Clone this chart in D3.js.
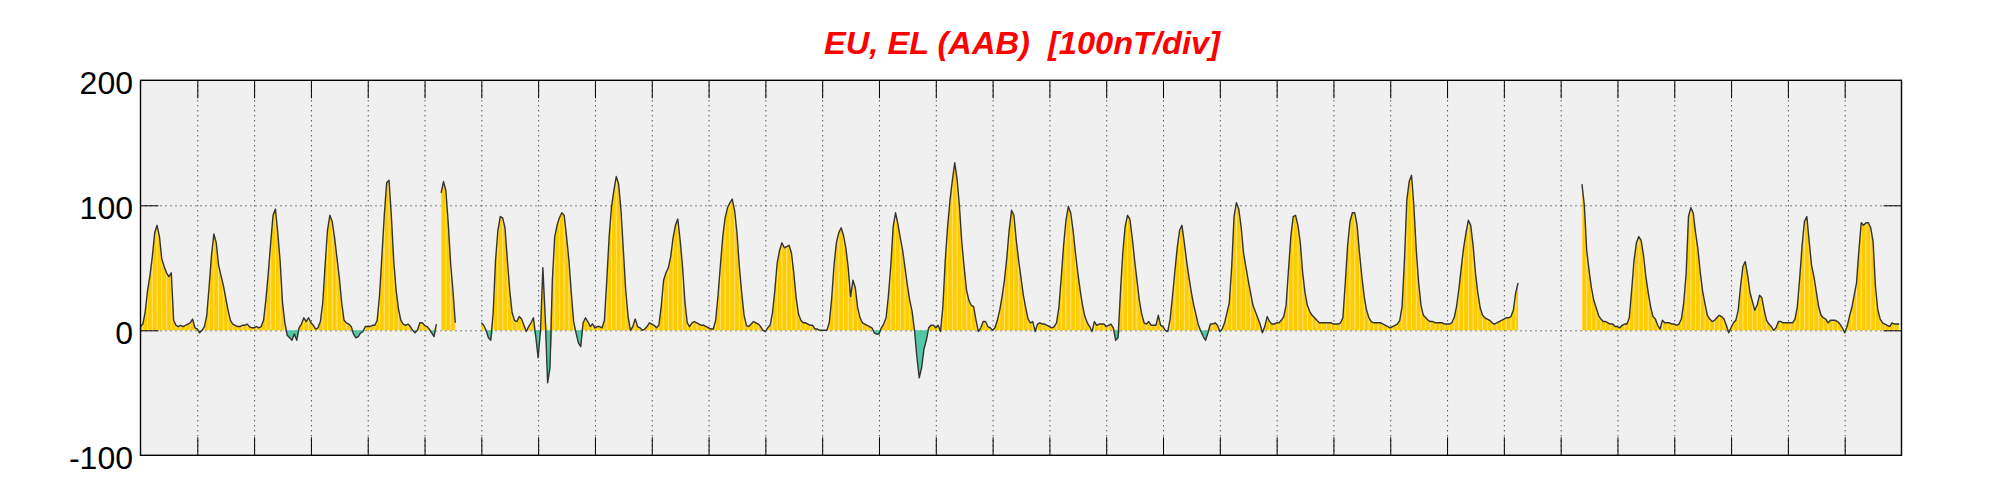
<!DOCTYPE html>
<html><head><meta charset="utf-8">
<script src="https://cdn.jsdelivr.net/npm/d3@7"></script>
<style>html,body{margin:0;padding:0;background:#fff;} svg{display:block;}</style>
</head><body>
<svg id="chart" width="2001" height="500"></svg>
<script>
// ---------- data (hourly EU/EL values in nT; null = no data) ----------
const titleText = "EU, EL (AAB)  [100nT/div]";
const yTicks = [-100, 0, 100, 200];
const yGrid = [0, 100];
const dayCount = 31;
const hoursPerDay = 24;
const _ = null;
const d01 = [3,5,15,32,44,59,78,84,75,57,51,46,43,46,8,4,3,4,3,4,5,6,9,2];
const d02 = [1,-2,0,3,12,35,60,77,70,52,44,36,26,16,8,5,4,3,3,4,4,5,3,2];
const d03 = [2,3,2,3,8,25,46,70,92,97,78,55,22,6,-4,-6,-8,-3,-8,2,5,10,7,10];
const d04 = [6,4,1,2,7,22,52,80,92,87,74,58,42,22,8,6,5,3,-3,-6,-5,-2,-1,3];
const d05 = [3,3,4,4,8,28,60,92,118,120,91,55,32,17,8,5,4,5,3,0,-2,0,6,6];
const d06 = [4,3,1,-2,-5,5,_,110,119,112,86,54,32,6,_,_,_,_,_,_,_,_,_,_];
const d07 = [6,4,0,-6,-8,14,56,80,91,90,82,56,32,14,8,7,11,9,4,-1,3,6,10,-5];
const d08 = [-22,0,50,10,-42,-30,40,75,84,90,94,92,75,56,30,7,-2,-10,-13,6,10,7,3,5];
const d09 = [2,3,3,2,8,40,75,99,112,123,117,96,64,32,11,0,3,9,3,2,0,1,3,6];
const d10 = [5,4,2,4,19,40,46,50,59,74,84,89,72,51,23,6,3,6,7,6,5,4,4,3];
const d11 = [2,1,1,8,28,52,75,90,98,102,105,96,78,51,30,12,4,3,5,7,6,5,3,0];
const d12 = [-1,2,4,14,32,54,64,70,66,67,68,62,46,26,13,8,6,6,5,4,4,1,1,0];
const d13 = [0,0,0,6,25,52,70,78,82,76,66,50,27,40,34,18,10,6,5,4,3,2,-2,-3];
const d14 = [-3,2,5,10,28,52,83,94,85,74,64,50,36,24,15,0,-21,-38,-30,-15,-8,2,4,4];
const d15 = [2,4,-1,19,56,83,104,120,134,121,99,70,50,32,24,20,19,8,-1,2,7,7,3,2];
const d16 = [0,2,8,16,27,40,58,80,96,92,72,56,42,28,18,9,6,7,-1,5,6,5,5,4];
const d17 = [3,2,3,6,18,42,68,88,99,94,80,62,46,32,20,11,6,3,-1,7,4,5,5,5];
const d18 = [3,4,5,2,-8,-6,30,62,83,92,89,74,56,40,24,13,6,5,7,4,4,4,12,4];
const d19 = [3,0,-1,9,27,47,66,80,84,70,55,42,30,20,12,4,-1,-5,-8,-2,5,5,6,4];
const d20 = [-1,1,6,14,22,50,91,102,97,83,62,51,40,30,20,15,10,5,-2,3,11,7,5,5];
const d21 = [6,6,8,11,20,48,75,91,92,84,70,46,30,20,15,12,10,8,6,6,6,6,6,6];
const d22 = [5,5,5,6,10,38,68,87,94,94,84,62,43,27,16,10,7,6,6,6,6,5,4,3];
const d23 = [2,3,4,5,8,19,56,104,119,124,99,64,38,20,12,10,8,7,7,6,6,6,6,5];
const d24 = [5,5,6,10,19,33,50,66,78,88,84,68,46,30,18,12,10,9,8,6,5,6,7,8];
const d25 = [9,10,10,11,16,30,38,_,_,_,_,_,_,_,_,_,_,_,_,_,_,_,_,_];
const d26 = [_,_,_,_,_,_,_,_,_,117,100,64,48,34,24,18,12,9,7,7,6,5,5,3];
const d27 = [3,2,4,5,5,10,32,56,70,75,72,60,43,30,19,11,9,4,1,8,6,6,6,5];
const d28 = [5,4,5,9,22,45,91,98,94,78,65,46,31,21,12,9,7,8,10,12,11,9,4,-2];
const d29 = [2,6,8,16,35,51,55,44,30,23,16,20,28,26,16,8,5,3,0,2,7,7,6,6];
const d30 = [6,6,6,9,19,42,68,87,91,71,52,43,31,19,12,10,9,6,8,8,8,7,5,2];
const d31 = [-2,3,11,18,28,38,64,86,84,86,86,82,71,35,16,9,6,5,4,3,6,5,5,5];

// ---------- layout ----------
const plot = {left: 140.5, right: 1901.5, top: 80.3, bottom: 455.3};
const colors = {bg: "#f0f0f0", pos: "#ffcc00", neg: "#52c8a6", line: "#333333", title: "#ff0000"};
const fontFamily = "'Liberation Sans', Arial, Helvetica, sans-serif";

const days = [d01,d02,d03,d04,d05,d06,d07,d08,d09,d10,d11,d12,d13,d14,d15,d16,
              d17,d18,d19,d20,d21,d22,d23,d24,d25,d26,d27,d28,d29,d30,d31];
const series = days.flat().map((v, i) => ({t: i, v: v}));
const nHours = dayCount * hoursPerDay;

const svg = d3.select("#chart");
const x = d3.scaleLinear().domain([0, nHours]).range([plot.left, plot.right]);
const y = d3.scaleLinear().domain([-100, 200]).range([plot.bottom, plot.top]);
const pw = plot.right - plot.left, ph = plot.bottom - plot.top;

// plot background
svg.append("rect").attr("x", plot.left).attr("y", plot.top)
  .attr("width", pw).attr("height", ph).attr("fill", colors.bg);

const dayTicks = d3.range(1, dayCount).map(d => d * hoursPerDay);

// dotted grid
svg.append("g").attr("transform", `translate(0,${plot.top})`)
  .call(d3.axisBottom(x).tickValues(dayTicks).tickSize(ph).tickFormat(""))
  .call(g => g.select(".domain").remove())
  .call(g => g.selectAll("line").attr("stroke", "#111").attr("stroke-dasharray", "1,4"));
svg.append("g").attr("transform", `translate(${plot.left},0)`)
  .call(d3.axisRight(y).tickValues(yGrid).tickSize(pw).tickFormat(""))
  .call(g => g.select(".domain").remove())
  .call(g => g.selectAll("line").attr("stroke", "#111").attr("stroke-dasharray", "1,4"));

// areas
const defined = d => d.v !== null;
const areaPos = d3.area().defined(defined).x(d => x(d.t)).y0(y(0)).y1(d => y(Math.max(0, d.v)));
const areaNeg = d3.area().defined(defined).x(d => x(d.t)).y0(y(0)).y1(d => y(Math.min(0, d.v)));

svg.append("path").datum(series).attr("d", areaNeg).attr("fill", colors.neg);
svg.append("path").datum(series).attr("d", areaPos).attr("fill", colors.pos);

// white striping inside the yellow fill (every 2 hours)
svg.append("clipPath").attr("id", "posClip")
  .append("path").datum(series).attr("d", areaPos);
svg.append("g").attr("clip-path", "url(#posClip)")
  .selectAll("line").data(d3.range(1, nHours, 2)).join("line")
  .attr("x1", t => x(t)).attr("x2", t => x(t))
  .attr("y1", y(0)).attr("y2", plot.top)
  .attr("stroke", "#fff").attr("stroke-width", 0.8).attr("stroke-opacity", 0.6);

// data line
const line = d3.line().defined(defined).x(d => x(d.t)).y(d => y(d.v));
svg.append("path").datum(series).attr("d", line)
  .attr("fill", "none").attr("stroke", colors.line).attr("stroke-width", 1.4)
  .attr("stroke-linejoin", "round");

// inward tick marks
const tickLen = 18;
function styleTicks(g) {
  g.select(".domain").remove();
  g.selectAll("line").attr("stroke", "#000").attr("stroke-width", 1);
}
svg.append("g").attr("transform", `translate(0,${plot.top})`)
  .call(d3.axisBottom(x).tickValues(dayTicks).tickSize(tickLen).tickFormat("")).call(styleTicks);
svg.append("g").attr("transform", `translate(0,${plot.bottom})`)
  .call(d3.axisTop(x).tickValues(dayTicks).tickSize(tickLen).tickFormat("")).call(styleTicks);
svg.append("g").attr("transform", `translate(${plot.left},0)`)
  .call(d3.axisRight(y).tickValues(yGrid).tickSize(tickLen).tickFormat("")).call(styleTicks);
svg.append("g").attr("transform", `translate(${plot.right},0)`)
  .call(d3.axisLeft(y).tickValues(yGrid).tickSize(tickLen).tickFormat("")).call(styleTicks);

// frame
svg.append("rect").attr("x", plot.left).attr("y", plot.top)
  .attr("width", pw).attr("height", ph)
  .attr("fill", "none").attr("stroke", "#000").attr("stroke-width", 1.4);

// y tick labels (plain hyphen-minus as in the reference)
svg.append("g").attr("transform", `translate(${plot.left},0)`)
  .call(d3.axisLeft(y).tickValues(yTicks).tickSize(0).tickPadding(7.5).tickFormat(d => String(d)))
  .call(g => g.select(".domain").remove())
  .call(g => g.selectAll("text")
    .attr("font-family", fontFamily).attr("font-size", 32)
    .attr("fill", "#000").attr("dy", "0.41em"));

// title
svg.append("text")
  .attr("x", (plot.left + plot.right) / 2 + 1).attr("y", 54)
  .attr("text-anchor", "middle")
  .attr("font-family", fontFamily).attr("font-size", 32)
  .attr("font-weight", "bold").attr("font-style", "italic")
  .attr("fill", colors.title)
  .attr("textLength", 396).attr("lengthAdjust", "spacingAndGlyphs")
  .style("white-space", "pre")
  .text(titleText);
</script>
</body></html>
